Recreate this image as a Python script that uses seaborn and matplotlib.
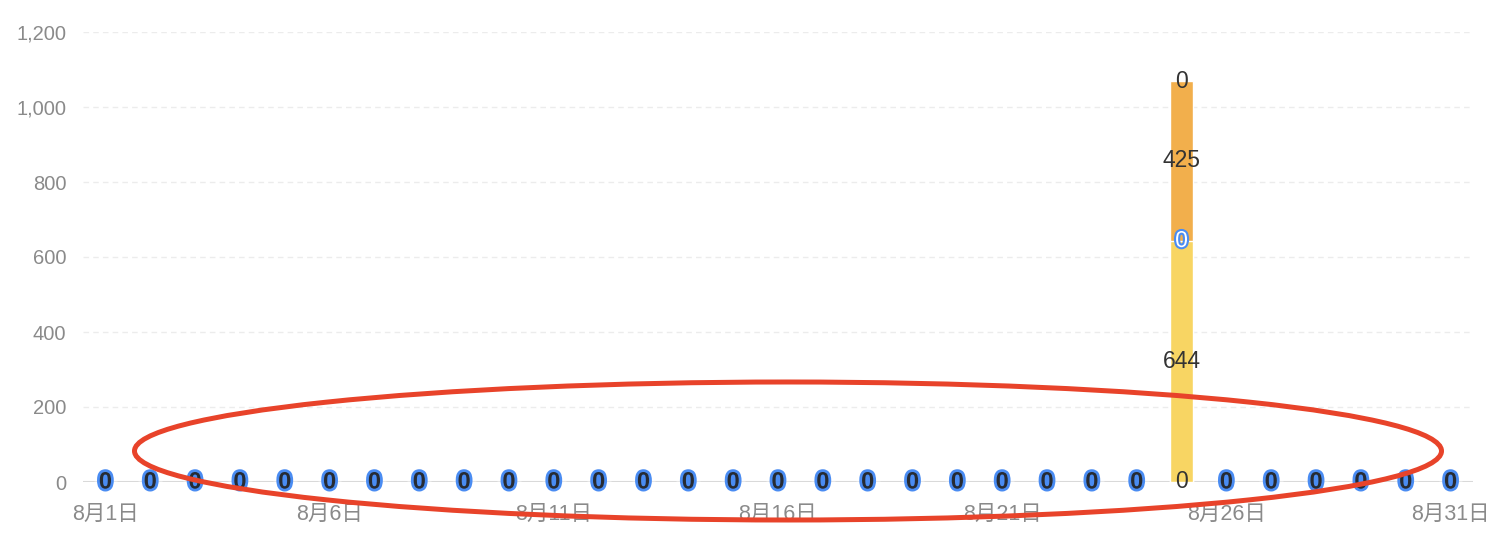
import matplotlib
matplotlib.use("Agg")
import matplotlib.pyplot as plt
import matplotlib.patheffects as pe
from matplotlib.patches import Ellipse
from matplotlib.transforms import IdentityTransform
import seaborn as sns
import pandas as pd

days = ["8月1日", "8月2日", "8月3日", "8月4日", "8月5日", "8月6日", "8月7日", "8月8日",
        "8月9日", "8月10日", "8月11日", "8月12日", "8月13日", "8月14日", "8月15日", "8月16日",
        "8月17日", "8月18日", "8月19日", "8月20日", "8月21日", "8月22日", "8月23日", "8月24日",
        "8月25日", "8月26日", "8月27日", "8月28日", "8月29日", "8月30日", "8月31日"]
yellow_vals = [0, 0, 0, 0, 0, 0, 0, 0, 0, 0, 0, 0, 0, 0, 0, 0,
               0, 0, 0, 0, 0, 0, 0, 0, 644, 0, 0, 0, 0, 0, 0]
orange_vals = [0, 0, 0, 0, 0, 0, 0, 0, 0, 0, 0, 0, 0, 0, 0, 0,
               0, 0, 0, 0, 0, 0, 0, 0, 425, 0, 0, 0, 0, 0, 0]
line_vals = [0, 0, 0, 0, 0, 0, 0, 0, 0, 0, 0, 0, 0, 0, 0, 0,
             0, 0, 0, 0, 0, 0, 0, 0, 0, 0, 0, 0, 0, 0, 0]
y_ticks = [0, 200, 400, 600, 800, 1000, 1200]

df = pd.DataFrame({"day": days, "yellow": yellow_vals, "orange": orange_vals, "line": line_vals})
df["total"] = df["yellow"] + df["orange"]

sns.set_style("white")
plt.rcParams["font.family"] = ["Liberation Sans", "Noto Sans CJK SC"]

fig = plt.figure(figsize=(15.06, 5.4), dpi=100)
ax = fig.add_axes([83 / 1506, 58 / 540, 1390 / 1506, 450 / 540])

yellow = "#F8D563"
orange = "#F2AF4C"
sns.barplot(data=df, x="day", y="total", color=orange, width=0.53, saturation=1, ax=ax, zorder=2)
sns.barplot(data=df, x="day", y="yellow", color=yellow, width=0.53, saturation=1, ax=ax, zorder=3)

ax.set_xlim(-0.5, len(days) - 0.5)
ax.set_ylim(0, 1200)
ax.set_yticks(y_ticks)
ax.set_yticklabels([f"{v:,}" for v in y_ticks])
ax.set_xticks(range(0, len(days), 5))
ax.set_xticklabels(days[::5])
ax.tick_params(axis="x", length=0, colors="#8a8a8a", labelsize=15.5, pad=16)
ax.tick_params(axis="y", length=0, colors="#8a8a8a", labelsize=14.5, pad=12)
ax.set_xlabel("")
ax.set_ylabel("")
for s in ax.spines.values():
    s.set_visible(False)
for v in y_ticks[1:]:
    ax.axhline(v, color="#ececec", lw=1, ls=(0, (4, 3)), zorder=0)
ax.axhline(0, color="#d9d9d9", lw=1.5, zorder=1)

blue_outline = [pe.withStroke(linewidth=4, foreground="#4A8CF2")]
for i, (yv, ov, lv) in enumerate(zip(yellow_vals, orange_vals, line_vals)):
    if yv + ov == 0:
        ax.text(i, lv, f"{lv}", ha="center", va="center", fontsize=17, fontweight="bold",
                color="#262b33", path_effects=blue_outline, zorder=5)
    else:
        ax.text(i, 0, "0", ha="center", va="center", fontsize=16.5, color="#333333", zorder=5)
        ax.text(i, yv / 2, f"{yv}", ha="center", va="center", fontsize=16.5, color="#333333", zorder=5)
        ax.text(i, yv, f"{lv}", ha="center", va="center", fontsize=16.5, color="white",
                path_effects=[pe.withStroke(linewidth=3, foreground="#4A8CF2")], zorder=5)
        ax.text(i, yv + ov / 2, f"{ov}", ha="center", va="center", fontsize=16.5, color="#333333", zorder=5)
        ax.text(i, yv + ov, "0", ha="center", va="center", fontsize=16.5, color="#333333", zorder=5)

# red highlight ring
ring = Ellipse((788, 540 - 451), 1307, 138, fill=False, edgecolor="#E8432A",
               lw=3.6, transform=IdentityTransform(), zorder=10)
fig.add_artist(ring)

fig.savefig("out.png", dpi=100)
